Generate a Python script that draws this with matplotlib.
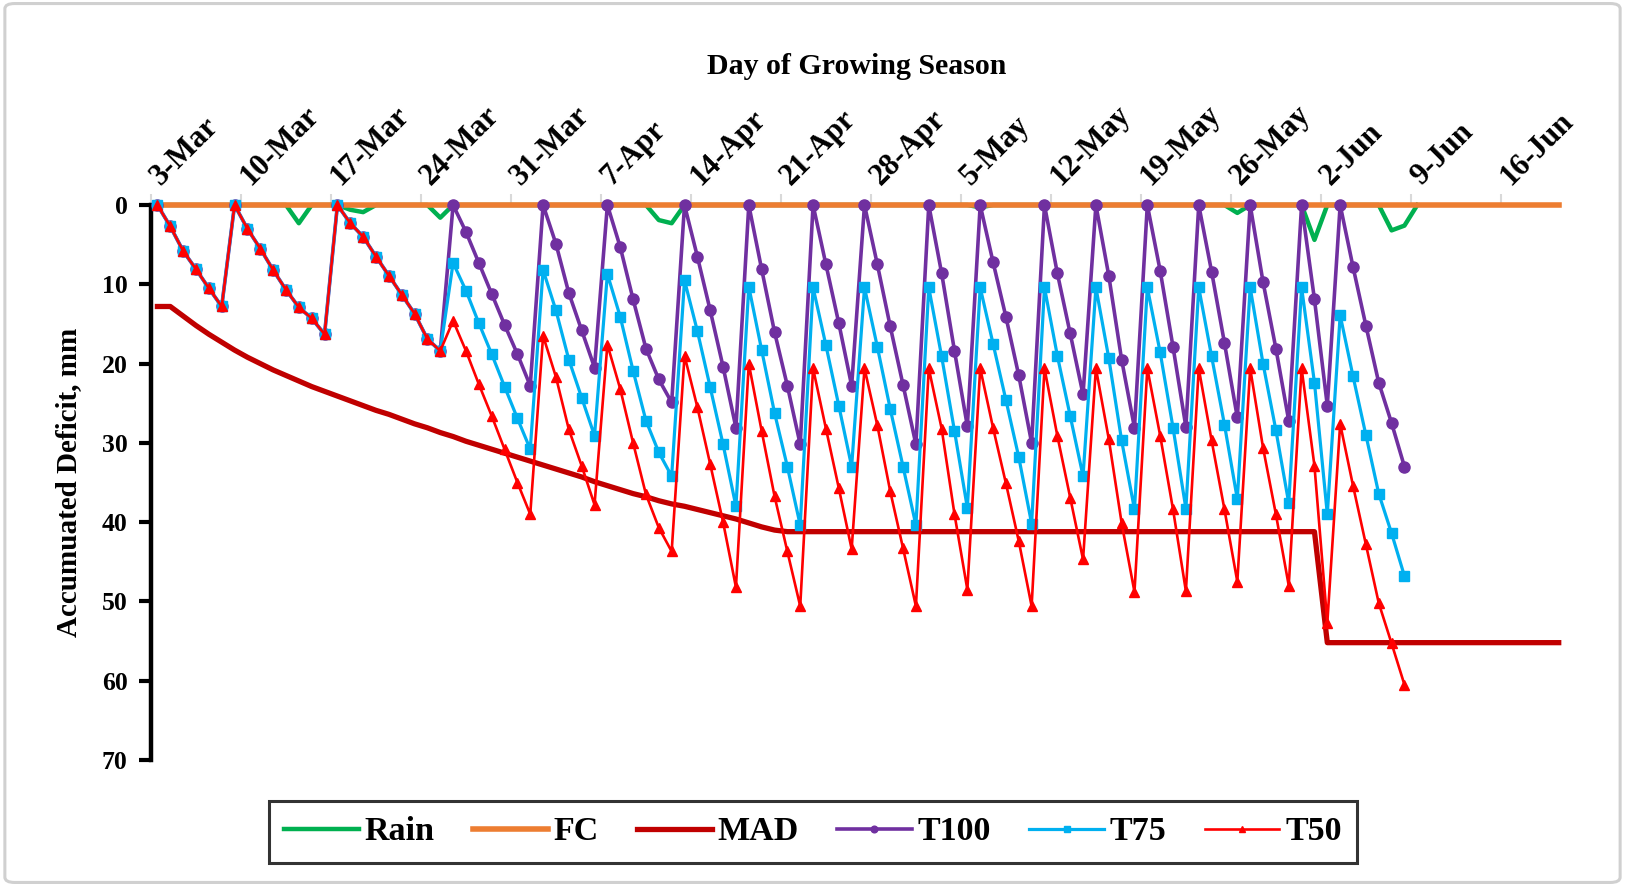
import numpy as np
import pandas as pd
import matplotlib
matplotlib.use("Agg")
import matplotlib.pyplot as plt
from matplotlib.patches import FancyBboxPatch
from matplotlib.transforms import ScaledTranslation

plt.rcParams['font.family'] = ['Liberation Serif', 'DejaVu Serif']
plt.rcParams['font.weight'] = 'bold'

START = pd.Timestamp('2022-03-03')

# accumulated deficit (mm), one value per day from 3-Mar
t100 = [0, 2.7, 5.8, 8.1, 10.5, 12.8, 0, 3.0, 5.5, 8.2, 10.7, 12.9, 14.3, 16.3,
        0, 2.3, 4.0, 6.5, 8.9, 11.3, 13.7, 16.9, 18.4,
        0, 3.4, 7.3, 11.2, 15.1, 18.8, 22.8, 0, 4.9, 11.1, 15.8, 20.5,
        0, 5.3, 11.9, 18.1, 22.0, 24.9, 0, 6.5, 13.3, 20.4, 28.1,
        0, 8.1, 16.0, 22.8, 30.2, 0, 7.5, 14.9, 22.8, 0, 7.5, 15.3, 22.7, 30.2,
        0, 8.6, 18.4, 27.9, 0, 7.2, 14.1, 21.5, 30.0, 0, 8.6, 16.2, 23.9,
        0, 8.9, 19.5, 28.1, 0, 8.3, 17.9, 28.0, 0, 8.4, 17.4, 26.8,
        0, 9.7, 18.1, 27.2, 0, 11.9, 25.3, 0, 7.8, 15.2, 22.4, 27.5, 33.0]

t75 = [0, 2.7, 5.8, 8.1, 10.5, 12.8, 0, 3.0, 5.5, 8.2, 10.7, 12.9, 14.3, 16.3,
       0, 2.3, 4.0, 6.5, 8.9, 11.3, 13.7, 16.9, 18.4,
       7.3, 10.8, 14.9, 18.8, 22.9, 26.9, 30.8, 8.2, 13.3, 19.5, 24.3, 29.1,
       8.7, 14.1, 20.9, 27.2, 31.2, 34.2, 9.5, 15.9, 23.0, 30.2, 38.0,
       10.3, 18.3, 26.2, 33.0, 40.4, 10.4, 17.7, 25.3, 33.0, 10.4, 17.9, 25.7, 33.0, 40.4,
       10.4, 19.1, 28.5, 38.2, 10.4, 17.5, 24.6, 31.8, 40.2, 10.4, 19.0, 26.6, 34.2,
       10.4, 19.3, 29.7, 38.4, 10.4, 18.6, 28.1, 38.3, 10.4, 19.1, 27.7, 37.1,
       10.4, 20.0, 28.4, 37.6, 10.4, 22.4, 39.0, 13.9, 21.6, 29.0, 36.4, 41.4, 46.8]

t50 = [0, 2.7, 5.8, 8.1, 10.5, 12.8, 0, 3.0, 5.5, 8.2, 10.7, 12.9, 14.3, 16.3,
       0, 2.3, 4.0, 6.5, 8.9, 11.3, 13.7, 16.9, 18.4,
       14.6, 18.4, 22.6, 26.6, 30.8, 35.0, 39.0, 16.5, 21.7, 28.3, 32.9, 37.8,
       17.6, 23.2, 30.0, 36.5, 40.7, 43.7, 19.0, 25.5, 32.7, 40.0, 48.2,
       20.0, 28.5, 36.7, 43.7, 50.6, 20.6, 28.2, 35.7, 43.4, 20.6, 27.8, 36.1, 43.3, 50.6,
       20.6, 28.2, 39.0, 48.5, 20.6, 28.1, 35.1, 42.4, 50.6, 20.6, 29.1, 36.9, 44.7,
       20.6, 29.5, 40.1, 48.8, 20.6, 29.1, 38.4, 48.7, 20.6, 29.7, 38.4, 47.5,
       20.6, 30.6, 39.0, 48.0, 20.6, 32.9, 52.7, 27.6, 35.4, 42.8, 50.2, 55.3, 60.5]

mad = [12.8, 12.8, 14.0, 15.2, 16.3, 17.3, 18.3, 19.2, 20.0, 20.8, 21.5, 22.2,
       22.9, 23.5, 24.1, 24.7, 25.3, 25.9, 26.4, 27.0, 27.6, 28.1, 28.7, 29.2,
       29.8, 30.3, 30.8, 31.3, 31.8, 32.3, 32.8, 33.3, 33.8, 34.3, 34.9, 35.4,
       35.9, 36.4, 36.8, 37.3, 37.7, 38.0, 38.4, 38.8, 39.2, 39.6, 40.1, 40.6,
       41.0] + [41.2] * 42 + [55.2] * 19

fc = [0.0] * 110

# rain shown as a dip below field capacity on these days
rain_days = [11, 15, 16, 22, 39, 40, 64, 84, 90, 96, 97]
rain_depth = [2.3, 0.6, 0.9, 1.6, 1.9, 2.3, 0.3, 1.0, 4.4, 3.2, 2.6]
rain = np.zeros(99)
rain[rain_days] = rain_depth

tick_labels = ['3-Mar', '10-Mar', '17-Mar', '24-Mar', '31-Mar', '7-Apr', '14-Apr',
               '21-Apr', '28-Apr', '5-May', '12-May', '19-May', '26-May', '2-Jun',
               '9-Jun', '16-Jun']


def days(n):
    # each daily value sits in the middle of its day slot
    return START + pd.to_timedelta(np.arange(n), unit='D') + pd.Timedelta(hours=12)


W, H = 1625, 886
fig = plt.figure(figsize=(W / 100, H / 100), dpi=100)
fig.patches.append(FancyBboxPatch((0.003, 0.004), 0.994, 0.992, boxstyle='round,pad=0,rounding_size=0.006',
                                  transform=fig.transFigure, fill=False, ec='#D0D0D0', lw=2.2))

ax = fig.add_axes([151 / W, 1 - 760 / H, 1409 / W, 555 / H])

kw = dict(clip_on=False)
ax.plot(days(len(rain)), rain, color='#00B050', lw=3.2, label='Rain', zorder=3, **kw)
ax.plot(days(len(fc)), fc, color='#ED7D31', lw=4.0, label='FC', zorder=3, **kw)
ax.plot(days(len(mad)), mad, color='#C00000', lw=3.8, label='MAD', zorder=3, **kw)
ax.plot(days(len(t100)), t100, color='#7030A0', lw=2.6, marker='o', ms=8, label='T100', zorder=3, **kw)
ax.plot(days(len(t75)), t75, color='#00B0F0', lw=2.3, marker='s', ms=6.5, label='T75', zorder=3, **kw)
ax.plot(days(len(t50)), t50, color='#FF0000', lw=1.9, marker='^', ms=7.5, label='T50', zorder=3, **kw)

ax.set_ylim(70, 0)
ax.set_yticks(range(0, 71, 10))
ticks = pd.date_range(START, periods=len(tick_labels), freq='7D')
ax.set_xlim(START, START + pd.Timedelta(days=109.6))
ax.set_xticks(ticks)
ax.set_xticklabels(tick_labels)
ax.xaxis.tick_top()
ax.tick_params(axis='x', colors='#D9D9D9', length=8, width=1.5, pad=6, labelcolor='black', labelsize=22)
ax.tick_params(axis='y', length=9, width=3, pad=8, labelsize=18.5)
shift = ScaledTranslation(0.1, 0, fig.dpi_scale_trans)
for lab in ax.get_xticklabels():
    lab.set_rotation(45)
    lab.set_ha('left')
    lab.set_va('baseline')
    lab.set_rotation_mode('anchor')
    lab.set_transform(lab.get_transform() + shift)

for s in ['right', 'bottom']:
    ax.spines[s].set_visible(False)
ax.spines['top'].set_color('#D9D9D9')
ax.spines['top'].set_linewidth(1.5)
ax.spines['top'].set_zorder(1)
ax.spines['left'].set_linewidth(3.2)

ax.set_ylabel('Accumuated Deficit, mm', fontsize=21, fontweight='bold', va='center')
ax.yaxis.set_label_coords(-82 / 1409, 0.5)

fig.text(857 / W, 1 - 67 / H, 'Day of Growing Season', ha='center', va='center', fontsize=21.5, fontweight='bold')

leg = fig.legend(loc='center', bbox_to_anchor=(813 / W, 1 - 832 / H), ncol=6, fontsize=24.5,
                 handlelength=2.2, columnspacing=1.12, handletextpad=0.17, markerscale=0.6,
                 fancybox=False, edgecolor='black', borderpad=0.45)
leg.get_frame().set_linewidth(2.2)

fig.savefig('out.png', dpi=100)
